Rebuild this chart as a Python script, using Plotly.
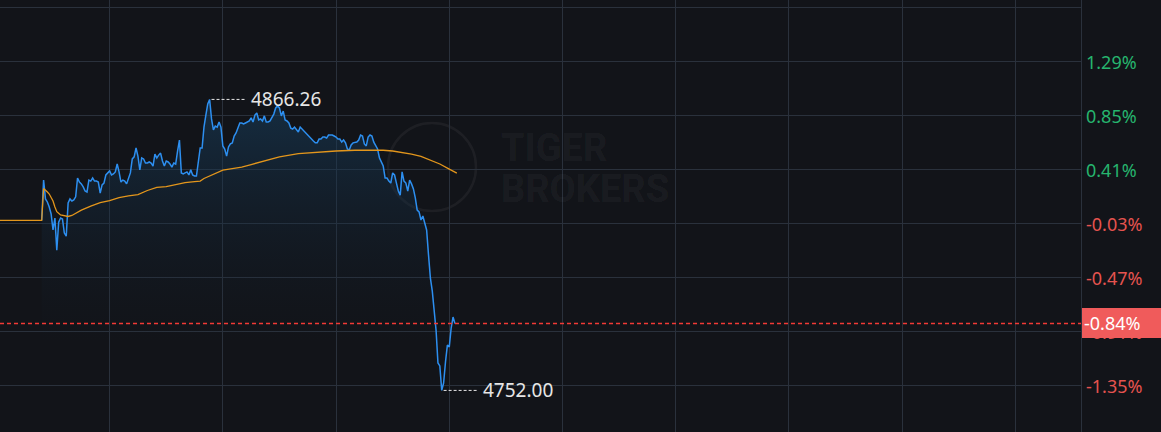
import plotly.graph_objects as go

# ---------------- data ----------------
prev_close = 4818.8
price_start_minute = 24
prices = [
    4818.8,
    4834.6, 4827.2, 4826.0, 4824.0, 4821.3, 4815.0, 4819.7, 4807.1, 4818.1, 4819.7,
    4819.3, 4813.8, 4812.6, 4825.6, 4827.2, 4826.4, 4826.8, 4828.0, 4835.4, 4833.8,
    4833.1, 4831.9, 4830.3, 4829.9, 4834.6, 4834.2, 4835.4, 4834.2, 4834.2, 4833.8,
    4829.5, 4832.7, 4833.4, 4836.6, 4837.4, 4838.2, 4836.6, 4837.0, 4837.8, 4840.9,
    4837.8, 4833.8, 4834.6, 4834.2, 4833.1, 4835.4, 4837.4, 4842.9, 4843.7, 4847.2,
    4844.0, 4838.6, 4843.3, 4842.9, 4841.3, 4841.3, 4841.7, 4841.3, 4840.1, 4844.8,
    4843.3, 4844.4, 4845.2, 4842.1, 4840.1, 4842.1, 4841.7, 4840.9, 4839.7, 4841.3,
    4840.9, 4846.0, 4850.3, 4837.4, 4837.0, 4837.4, 4837.8, 4836.6, 4838.6, 4836.6,
    4836.2, 4836.2, 4840.9, 4847.2, 4847.2, 4855.4, 4860.1, 4864.5, 4866.26, 4858.6,
    4854.3, 4855.8, 4855.4, 4857.4, 4855.4, 4848.0, 4846.8, 4844.0, 4847.6, 4848.8,
    4849.2, 4851.9, 4853.1, 4855.0, 4857.0, 4857.0, 4856.6, 4857.0, 4857.4, 4857.8,
    4859.0, 4857.4, 4860.1, 4860.9, 4858.2, 4858.6, 4857.8, 4859.8, 4857.4, 4857.4,
    4857.8, 4859.4, 4860.5, 4862.9, 4863.7, 4862.9, 4859.8, 4861.7, 4858.2, 4857.8,
    4857.0, 4855.0, 4854.6, 4855.4, 4854.3, 4853.5, 4855.4, 4854.6, 4853.5, 4853.1,
    4851.9, 4851.5, 4850.3, 4849.9, 4849.2, 4849.2, 4850.7, 4850.7, 4851.5, 4851.5,
    4851.1, 4852.3, 4852.3, 4852.3, 4851.9, 4851.5, 4850.7, 4850.7, 4849.5, 4850.3,
    4849.2, 4846.8, 4846.4, 4848.4, 4849.2, 4849.5, 4849.5, 4850.3, 4852.3, 4851.9,
    4848.8, 4848.0, 4851.5, 4852.3, 4851.9, 4849.5, 4848.0, 4846.8, 4843.3, 4841.7,
    4840.1, 4835.4, 4835.4, 4834.2, 4833.4, 4837.4, 4836.6, 4833.4, 4830.3, 4828.7,
    4837.8, 4834.2, 4833.4, 4830.3, 4834.6, 4833.1, 4831.1, 4827.6, 4822.8, 4822.1,
    4818.9, 4820.5, 4817.7, 4815.0, 4805.2, 4796.1, 4791.0, 4783.6, 4775.7, 4762.8,
    4761.6, 4752.00, 4754.9, 4763.2, 4769.8, 4769.1, 4776.5, 4780.8, 4778.3,
]
avg_minutes = [0, 24, 25, 26, 27, 28, 29, 30, 31, 32, 34, 36, 38, 40, 42, 45, 50, 55, 60, 65,
               70, 75, 80, 85, 90, 95, 100, 105, 108, 110, 112, 115, 120, 125, 130, 135, 140,
               145, 150, 160, 170, 180, 190, 200, 205, 210, 215, 220, 225, 230, 235, 240, 244]
avg_prices = [4818.8, 4818.8, 4831.3, 4830.7, 4829.9, 4829.1, 4828.0, 4826.4, 4824.0, 4822.2,
              4820.9, 4820.7, 4820.3, 4820.7, 4821.5, 4822.8, 4824.4, 4825.7, 4826.5, 4827.7,
              4828.4, 4828.9, 4830.5, 4831.7, 4832.0, 4832.9, 4833.6, 4834.0, 4834.2, 4835.2,
              4835.8, 4837.0, 4838.5, 4839.1, 4839.7, 4840.7, 4841.7, 4842.7, 4843.7, 4845.0,
              4845.6, 4846.0, 4846.3, 4846.4, 4846.3, 4846.0, 4845.4, 4844.8, 4843.9, 4842.5,
              4840.9, 4838.9, 4837.3]
grid_pcts = [1.73, 1.29, 0.85, 0.41, -0.03, -0.47, -0.91, -1.35]
label_pcts = [1.29, 0.85, 0.41, -0.03, -0.47, -0.91, -1.35]
label_texts = ["1.29%", "0.85%", "0.41%", "-0.03%", "-0.47%", "-0.91%", "-1.35%"]
current_label = "-0.84%"

# ---------------- style ----------------
W, H = 1161, 432
PLOT_W = 1081
BG = "#121419"
GRID = "#2a313c"
BLUE = "#2d8ff0"
ORANGE = "#e3961c"
GREEN = "#26b46e"
RED = "#e5534f"
BADGE = "#f05b5b"
FONT = "Noto Sans"

pct_top, pct_bottom = 1.795, -1.725
y_lo = prev_close * (1 + pct_bottom / 100)
y_hi = prev_close * (1 + pct_top / 100)
x_lo, x_hi = 1.9, 574.8

minutes = [price_start_minute + i for i in range(len(prices))]
last = prices[-1]

fig = go.Figure()
fig.add_trace(go.Scatter(
    x=minutes, y=prices, mode="lines",
    line=dict(color=BLUE, width=1.5),
    fill="tozeroy",
    fillgradient=dict(type="vertical",
                      colorscale=[[0, "rgba(18,30,44,0)"], [1, "rgba(24,66,100,0.55)"]],
                      start=prev_close * (1 - 0.010), stop=max(prices)),
    hoverinfo="skip", showlegend=False,
))
fig.add_trace(go.Scatter(
    x=avg_minutes, y=avg_prices, mode="lines",
    line=dict(color=ORANGE, width=1.3),
    hoverinfo="skip", showlegend=False,
))
# current price dashed line across the plot
fig.add_trace(go.Scatter(
    x=[x_lo, x_hi], y=[last, last], mode="lines",
    line=dict(color="#f23a36", width=1.6, dash="4px,3px"),
    hoverinfo="skip", showlegend=False,
))

shapes = []
annotations = []

# watermark
shapes.append(dict(type="circle", xref="paper", yref="paper",
                   x0=388 / PLOT_W, x1=476 / PLOT_W, y0=1 - 211 / H, y1=1 - 123 / H,
                   line=dict(color="rgba(255,255,255,0.05)", width=2.5), layer="below"))
for txt, yc in [("TIGER", 148), ("BROKERS", 189)]:
    annotations.append(dict(text=txt, xref="paper", yref="paper", x=499 / PLOT_W, y=1 - yc / H,
                            xanchor="left", yanchor="middle", showarrow=False,
                            font=dict(family="Roboto", size=38, color="rgba(255,255,255,0.05)",
                                      weight="bold")))

# max / min labels
i_max = prices.index(max(prices))
i_min = prices.index(min(prices))
for i in (i_max, i_min):
    t, v = minutes[i], prices[i]
    shapes.append(dict(type="line", xref="x", yref="y", x0=t + 1.0, x1=t + 18.5, y0=v, y1=v,
                       line=dict(color="#e8e8e8", width=1, dash="3px,2px")))
    annotations.append(dict(text=f"{v:.2f}", xref="x", yref="y", x=t + 21.0, y=v,
                            xanchor="left", yanchor="middle", showarrow=False,
                            font=dict(family=FONT, size=19, color="#e6e6e6")))

# right axis labels
for p, txt in zip(label_pcts, label_texts):
    annotations.append(dict(text=txt, xref="paper", yref="y", x=1, xshift=3,
                            y=prev_close * (1 + p / 100), xanchor="left", yanchor="middle",
                            showarrow=False,
                            font=dict(family=FONT, size=18, color=GREEN if p > 0 else RED)))

# current price badge (annotation box drawn on top of the axis labels)
annotations.append(dict(text=current_label, xref="paper", yref="y", x=1, xshift=1, y=last,
                        xanchor="left", yanchor="middle", showarrow=False,
                        width=W - PLOT_W - 2, height=26, align="left", borderpad=2,
                        bgcolor=BADGE, borderwidth=0,
                        font=dict(family=FONT, size=18, color="#ffffff")))

fig.update_layout(
    width=W, height=H, autosize=False,
    margin=dict(l=0, r=W - PLOT_W, t=0, b=0),
    paper_bgcolor=BG, plot_bgcolor=BG,
    shapes=shapes, annotations=annotations,
    xaxis=dict(range=[x_lo, x_hi], tick0=0, dtick=60, showgrid=True, gridcolor=GRID,
               gridwidth=1, showticklabels=False, zeroline=False, showline=False, ticks=""),
    yaxis=dict(range=[y_lo, y_hi], tickmode="array",
               tickvals=[prev_close * (1 + p / 100) for p in grid_pcts],
               showgrid=True, gridcolor=GRID, gridwidth=1, showticklabels=False,
               zeroline=False, side="right", showline=True, linecolor=GRID, linewidth=1,
               ticks=""),
    hovermode=False,
)

fig.write_html("out.html", config={"displayModeBar": False},
               post_script="document.body.style.margin='0';document.body.style.background='" + BG + "';")
